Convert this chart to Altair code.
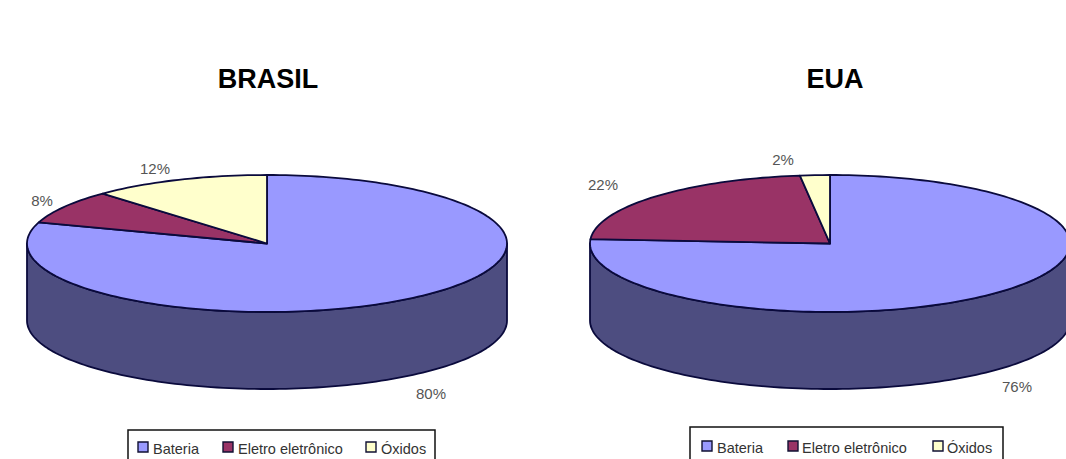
import math
import altair as alt

# Shares per country, in percent
categories = ["Bateria", "Eletro eletrônico", "Óxidos"]
brasil_values = [80, 8, 12]
eua_values = [76, 22, 2]
colors = ["#9999FF", "#993366", "#FFFFCC"]
side_color = "#4D4D80"
edge_color = "#0A0A3C"
label_color = "#555555"
FONT = "Liberation Sans"

W, H = 1066, 459
RX, RY, DEPTH = 240, 68.5, 77
CY = 243.5


def rim(cx, cy, start, end):
    """Points on the ellipse, clockwise from 12 o'clock, angles in degrees."""
    n = max(2, int(abs(end - start) / 1.5))
    out = []
    for i in range(n + 1):
        t = math.radians(start + (end - start) * i / n)
        out.append([cx + RX * math.sin(t), cy - RY * math.cos(t)])
    return out


def feature(points, part):
    return {
        "type": "Feature",
        "properties": {"part": part},
        "geometry": {"type": "Polygon", "coordinates": [points + [points[0]]]},
    }


def pie_features(cx, values):
    front = rim(cx, CY, 90, 270)
    bottom = rim(cx, CY + DEPTH, 270, 90)
    feats = [feature(front + bottom, "Lateral")]
    angle = 0
    for name, v in zip(categories, values):
        sweep = v * 3.6
        feats.append(feature([[cx, CY]] + rim(cx, CY, angle, angle + sweep), name))
        angle += sweep
    return feats


def text_layer(rows, size, color, align="center", weight="normal"):
    return (
        alt.Chart(alt.Data(values=rows))
        .mark_text(font=FONT, fontSize=size, color=color, align=align,
                   baseline="alphabetic", fontWeight=weight)
        .encode(x=alt.X("x:Q", scale=None), y=alt.Y("y:Q", scale=None), text="t:N")
    )


def legend_layers(left, right, top, swatch_x, text_x, swatch_y, text_y):
    frame = alt.Chart(alt.Data(values=[{"k": 1}])).mark_rect(
        fill="white", stroke="#111111", strokeWidth=1.5
    ).encode(x=alt.value(left), x2=alt.value(right), y=alt.value(top), y2=alt.value(H + 5))
    swatches = alt.Chart(alt.Data(values=[
        {"x": sx, "x2": sx + 10, "y": swatch_y, "y2": swatch_y + 10, "c": c}
        for sx, c in zip(swatch_x, categories)
    ])).mark_rect(stroke="#111133", strokeWidth=1.4).encode(
        x=alt.X("x:Q", scale=None), x2="x2:Q",
        y=alt.Y("y:Q", scale=None), y2="y2:Q",
        color=alt.Color("c:N", scale=alt.Scale(domain=categories, range=colors), legend=None),
    )
    names = text_layer(
        [{"x": x, "y": text_y, "t": c} for x, c in zip(text_x, categories)],
        14.5, "#333333", align="left",
    )
    return [frame, swatches, names]


features = pie_features(267, brasil_values) + pie_features(830, eua_values)

pies = (
    alt.Chart(alt.Data(values=features))
    .mark_geoshape(stroke=edge_color, strokeWidth=1.8, strokeJoin="round")
    .encode(
        color=alt.Color(
            "properties.part:N",
            scale=alt.Scale(domain=categories + ["Lateral"], range=colors + [side_color]),
            legend=None,
        )
    )
    .project(type="identity", scale=1, translate=[0, 0])
)

titles = text_layer(
    [{"x": 268, "y": 88, "t": "BRASIL"}, {"x": 835, "y": 88, "t": "EUA"}],
    27, "#000000", weight="bold",
)

label_pos = [(431, 399), (42, 206), (155, 174), (1017, 392), (603, 190), (783, 165)]
label_vals = brasil_values + eua_values
labels = text_layer(
    [{"x": p[0], "y": p[1], "t": f"{v}%"} for p, v in zip(label_pos, label_vals)],
    15, label_color,
)

chart = alt.layer(
    pies,
    titles,
    labels,
    *legend_layers(128, 435, 430, [138, 223, 366], [153, 238, 381], 442, 454),
    *legend_layers(690, 1003, 427, [702, 788, 933], [717, 802, 947], 441, 453),
).resolve_scale(color="independent").properties(
    width=W, height=H, padding=0, background="white"
).configure_view(stroke=None)

chart.save("out.html", embed_options={"renderer": "svg", "actions": False})
